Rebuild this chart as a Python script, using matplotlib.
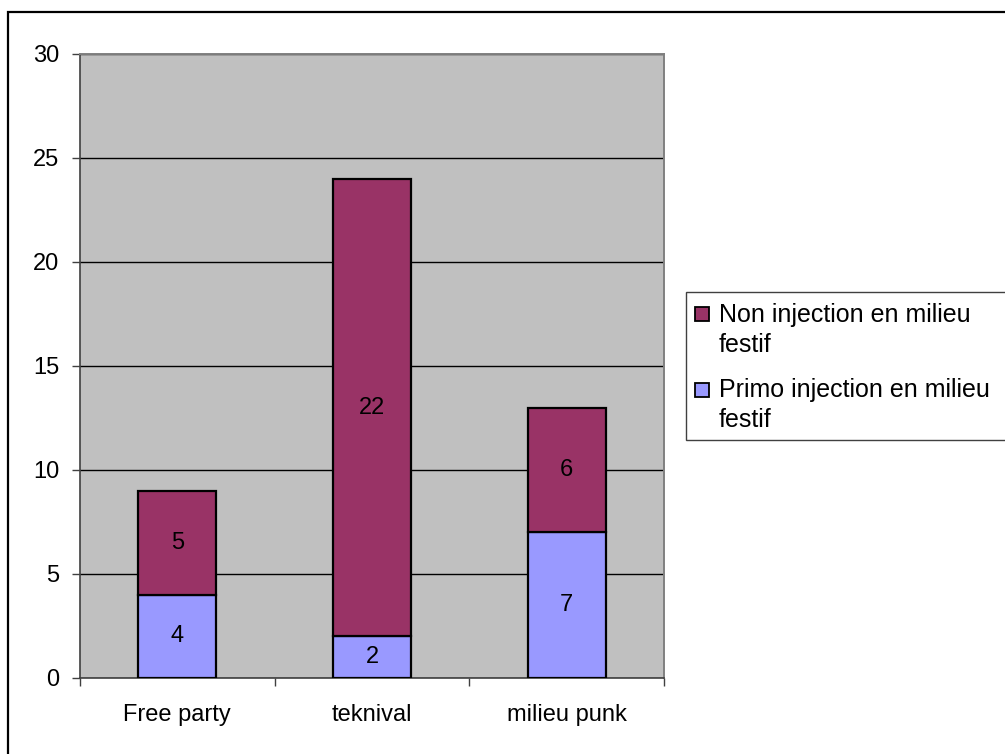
import matplotlib
matplotlib.use("Agg")
import matplotlib.pyplot as plt
from matplotlib.patches import Rectangle
import numpy as np

plt.rcParams['font.family'] = ['Liberation Sans', 'DejaVu Sans']

categories = ["Free party", "teknival", "milieu punk"]
primo = [4, 2, 7]
non_injection = [5, 22, 6]
series_labels = ["Non injection en milieu\nfestif", "Primo injection en milieu\nfestif"]
primo_color = "#9999FF"
non_color = "#993366"

W, H = 1005, 754
fig = plt.figure(figsize=(W / 100, H / 100), dpi=100)

def fx(px):
    return px / W

def fy(py):
    return 1 - py / H

# outer chart border
fig.patches.append(Rectangle((fx(8), fy(760)), fx(1010) - fx(8), fy(12) - fy(760),
                             transform=fig.transFigure, fill=False, edgecolor="black",
                             linewidth=1.6, zorder=0))

ax = fig.add_axes([fx(80), fy(678), fx(664) - fx(80), fy(54) - fy(678)])
ax.set_facecolor("#C0C0C0")

x = np.arange(len(categories))
width = 0.4
ax.bar(x, primo, width, color=primo_color, edgecolor="black", linewidth=1.6, zorder=3)
ax.bar(x, non_injection, width, bottom=primo, color=non_color, edgecolor="black",
       linewidth=1.6, zorder=3)

for i in range(len(categories)):
    ax.text(x[i], primo[i] / 2, str(primo[i]), ha="center", va="center", fontsize=17, zorder=4)
    ax.text(x[i], primo[i] + non_injection[i] / 2, str(non_injection[i]), ha="center",
            va="center", fontsize=17, zorder=4)

ax.set_xlim(-0.5, len(categories) - 0.5)
ax.set_ylim(0, 30)
ax.set_yticks(np.arange(0, 31, 5))
ax.yaxis.grid(True, color="black", linewidth=1.0, zorder=1)
ax.set_axisbelow(True)

ax.set_xticks(x)
ax.set_xticklabels(categories, fontsize=17)
ax.set_xticks(np.arange(-0.5, len(categories), 1.0), minor=True)
ax.tick_params(axis="x", which="major", length=0, pad=19)
ax.tick_params(axis="x", which="minor", length=6, width=1, color="#404040", direction="out")
ax.tick_params(axis="y", length=6, width=1, color="#404040", labelsize=17, pad=9)

for side in ["top", "right"]:
    ax.spines[side].set_color("#808080")
    ax.spines[side].set_linewidth(1.4)
ax.spines["left"].set_color("#404040")
ax.spines["bottom"].set_color("#404040")
ax.spines["left"].set_linewidth(1.2)
ax.spines["bottom"].set_linewidth(1.2)

# legend box, running past the right edge of the figure
fig.patches.append(Rectangle((fx(686), fy(440)), fx(1012) - fx(686), fy(292) - fy(440),
                             transform=fig.transFigure, facecolor="white", edgecolor="#404040",
                             linewidth=1.0, zorder=5))
legend_entries = [(series_labels[0], non_color, 307, 322),
                  (series_labels[1], primo_color, 383, 397)]
for label, color, ytop, baseline in legend_entries:
    fig.patches.append(Rectangle((fx(695), fy(ytop + 14)), fx(14), fy(0) - fy(14),
                                 transform=fig.transFigure, facecolor=color,
                                 edgecolor="black", linewidth=1.3, zorder=6))
    for k, line in enumerate(label.split("\n")):
        fig.text(fx(719), fy(baseline + 30 * k), line, fontsize=18, va="baseline",
                 ha="left", zorder=7)

fig.savefig("out.png", dpi=100)
